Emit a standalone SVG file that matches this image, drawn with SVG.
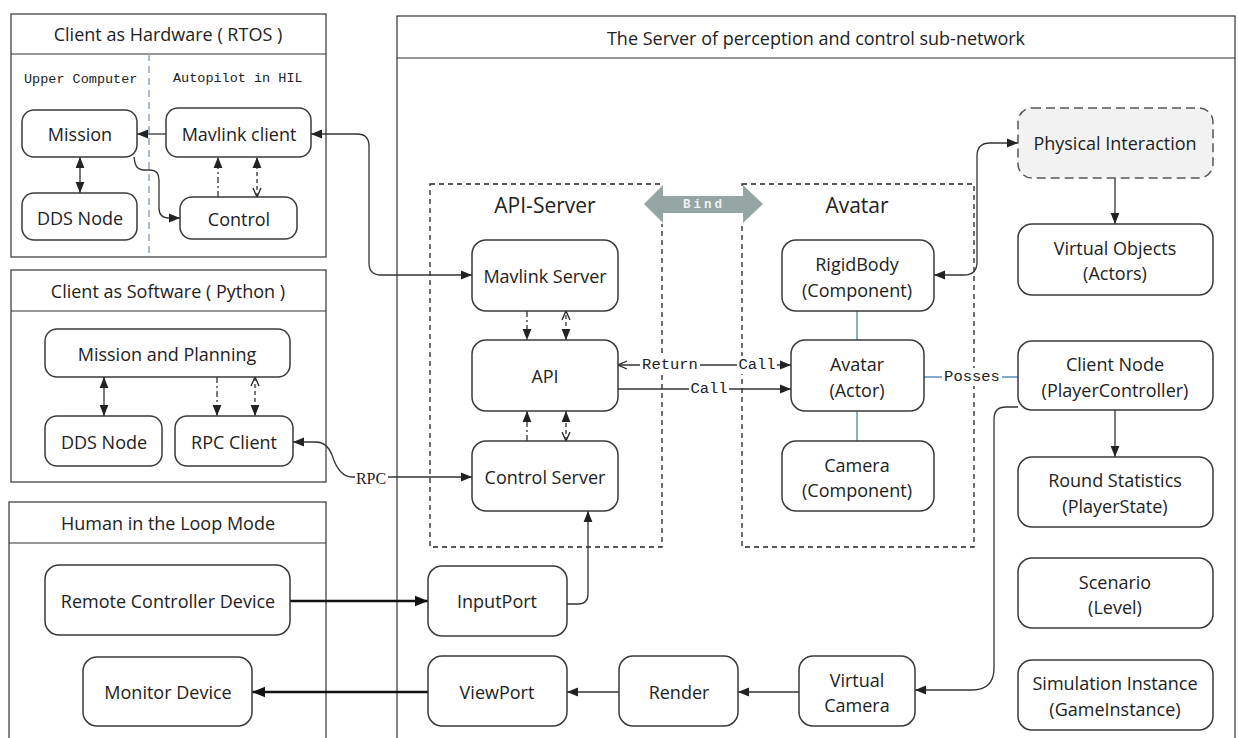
<svg xmlns="http://www.w3.org/2000/svg" width="1238" height="738" viewBox="0 0 1238 738">
  <style>
    .frame { fill: #ffffff; stroke: #333333; stroke-width: 1.2; }
    .node { fill: #ffffff; stroke: #3a3a3a; stroke-width: 1.5; }
    .ghost { fill: #f2f2f2; stroke: #555555; stroke-width: 1.5; stroke-dasharray: 9 5; }
    .zone { fill: none; stroke: #222222; stroke-width: 1.3; stroke-dasharray: 5 4; }
    .t { font-family: "Open Sans", "Noto Sans", "Liberation Sans", sans-serif; font-size: 18px; fill: #222222; text-anchor: middle; dominant-baseline: central; }
    .title { font-size: 18px; }
    .zt { font-size: 21px; }
    .mono { font-family: "Liberation Mono", "DejaVu Sans Mono", monospace; font-size: 13.5px; fill: #222222; dominant-baseline: central; }
    .lbl { font-family: "Liberation Mono", "DejaVu Sans Mono", monospace; font-size: 15.5px; fill: #222222; text-anchor: middle; dominant-baseline: central; }
    .lblbg { fill: #ffffff; }
    .ln { fill: none; stroke: #333333; stroke-width: 1.3; }
    .thick { fill: none; stroke: #111111; stroke-width: 2.6; }
    .dash { stroke-dasharray: 4 3; }
    .dashdot { stroke-dasharray: 6 3 2 3; }
    .blue { fill: none; stroke: #5b8db8; stroke-width: 1.4; }
  </style>
  <defs>
    <marker id="arr" viewBox="0 0 10 10" refX="10" refY="5" markerWidth="11" markerHeight="11" markerUnits="userSpaceOnUse" orient="auto-start-reverse">
      <path d="M0,1 L10,5 L0,9 z" fill="#222222"/>
    </marker>
    <marker id="arrBig" viewBox="0 0 10 10" refX="10" refY="5" markerWidth="13" markerHeight="13" markerUnits="userSpaceOnUse" orient="auto-start-reverse">
      <path d="M0,1 L10,5 L0,9 z" fill="#111111"/>
    </marker>
    <marker id="open" viewBox="0 0 10 10" refX="10" refY="5" markerWidth="10" markerHeight="10" markerUnits="userSpaceOnUse" orient="auto-start-reverse">
      <path d="M1,1 L10,5 L1,9" fill="none" stroke="#222222" stroke-width="1.3"/>
    </marker>
  </defs>

  <rect width="1238" height="738" fill="#ffffff"/>

  <!-- Containers -->
  <g id="server-frame">
    <rect class="frame" x="397" y="16" width="838" height="740"/>
    <line x1="397" y1="58" x2="1235" y2="58" stroke="#333333" stroke-width="1.2"/>
    <text class="t title" x="816" y="38">The Server of perception and control sub-network</text>
  </g>

  <g id="hardware-frame">
    <rect class="frame" x="11" y="14" width="315" height="243"/>
    <line x1="11" y1="54" x2="326" y2="54" stroke="#333333" stroke-width="1.2"/>
    <text class="t title" x="168" y="34">Client as Hardware ( RTOS )</text>
    <line x1="149" y1="54" x2="149" y2="257" stroke="#8ea7c2" stroke-width="1.5" stroke-dasharray="7 5"/>
    <text class="mono" x="24" y="79">Upper Computer</text>
    <text class="mono" x="173" y="78">Autopilot in HIL</text>
  </g>

  <g id="software-frame">
    <rect class="frame" x="11" y="270" width="315" height="212"/>
    <line x1="11" y1="311" x2="326" y2="311" stroke="#333333" stroke-width="1.2"/>
    <text class="t title" x="168" y="291">Client as Software ( Python )</text>
  </g>

  <g id="human-frame">
    <rect class="frame" x="9" y="502" width="317" height="250"/>
    <line x1="9" y1="543" x2="326" y2="543" stroke="#333333" stroke-width="1.2"/>
    <text class="t title" x="168" y="523">Human in the Loop Mode</text>
  </g>

  <g id="api-server-zone">
    <rect class="zone" x="430" y="184" width="232" height="363"/>
    <text class="t zt" x="545" y="205">API-Server</text>
  </g>

  <g id="avatar-zone">
    <rect class="zone" x="742" y="184" width="232" height="363"/>
    <text class="t zt" x="857" y="205">Avatar</text>
  </g>

  <g id="bind">
    <rect x="660" y="186" width="86" height="38" fill="#ffffff"/>
    <path d="M644,204 L663,185 L663,196 L743,196 L743,185 L763,204 L743,223 L743,213 L663,213 L663,223 z" fill="#95a5a3"/>
    <text x="704" y="205" font-family="Liberation Mono, DejaVu Sans Mono, monospace" font-size="12.5" font-weight="bold" letter-spacing="3" fill="#eef2f1" text-anchor="middle" dominant-baseline="central">Bind</text>
  </g>

  <!-- Connectors -->
  <g id="connectors">
    <!-- hardware client -->
    <path class="ln" d="M166,134 L137,134" marker-end="url(#arr)"/>
    <path class="ln" d="M80,157 L80,193" marker-start="url(#arr)" marker-end="url(#arr)"/>
    <path class="ln" d="M134,157 L135,163 Q137,170 144,170 L150,170 Q159,170 159,180 L159,208 Q159,218 169,218 L180,218" marker-end="url(#arr)"/>
    <path class="ln dashdot" d="M218,197 L218,157" marker-end="url(#arr)"/>
    <path class="ln dash" d="M257,197 L257,157" marker-start="url(#open)" marker-end="url(#arr)"/>
    <path class="ln" d="M311,134 L357,134 Q369,134 369,146 L369,263 Q369,275 381,275 L472,275" marker-start="url(#arr)" marker-end="url(#arr)"/>

    <!-- software client -->
    <path class="ln" d="M104,377 L104,416" marker-start="url(#arr)" marker-end="url(#arr)"/>
    <path class="ln dashdot" d="M217,377 L217,416" marker-end="url(#arr)"/>
    <path class="ln dash" d="M255,416 L255,377" marker-start="url(#arr)" marker-end="url(#open)"/>
    <path class="ln" d="M293,442 L316,442 Q327,442 332,455 Q339,477 352,477 L472,477" marker-start="url(#arr)" marker-end="url(#arr)"/>
    <rect class="lblbg" x="355" y="468" width="33" height="18"/>
    <text x="371" y="478" font-family="Liberation Serif, DejaVu Serif, serif" font-size="16" fill="#222222" text-anchor="middle" dominant-baseline="central">RPC</text>

    <!-- API server internals -->
    <path class="ln dashdot" d="M527,311 L527,340" marker-end="url(#arr)"/>
    <path class="ln dash" d="M566,340 L566,311" marker-start="url(#arr)" marker-end="url(#open)"/>
    <path class="ln dashdot" d="M527,441 L527,411" marker-end="url(#arr)"/>
    <path class="ln dash" d="M566,441 L566,411" marker-start="url(#open)" marker-end="url(#arr)"/>

    <!-- API <-> Avatar -->
    <path class="ln" d="M791,365 L618,365" marker-start="url(#arr)" marker-end="url(#open)"/>
    <rect class="lblbg" x="640" y="356" width="60" height="18"/>
    <text class="lbl" x="670" y="365">Return</text>
    <rect class="lblbg" x="737" y="356" width="40" height="18"/>
    <text class="lbl" x="757" y="365">Call</text>
    <path class="ln" d="M618,389 L791,389" marker-end="url(#arr)"/>
    <rect class="lblbg" x="689" y="380" width="40" height="18"/>
    <text class="lbl" x="709" y="389">Call</text>

    <!-- avatar parts -->
    <path class="blue" d="M857,311 L857,340"/>
    <path class="blue" d="M857,411 L857,441"/>
    <path class="blue" d="M924,377 L1018,377"/>
    <rect class="lblbg" x="942" y="368" width="60" height="18"/>
    <text class="lbl" x="972" y="377">Posses</text>

    <!-- physics -->
    <path class="ln" d="M934,275 L964,275 Q977,275 977,262 L977,156 Q977,143 990,143 L1018,143" marker-start="url(#arr)" marker-end="url(#arr)"/>
    <path class="ln" d="M1115,178 L1115,224" stroke-width="2" marker-end="url(#arr)"/>

    <!-- player controller -->
    <path class="ln" d="M1115,410 L1115,457" marker-end="url(#arr)"/>
    <path class="ln" d="M1018,407 L1006,407 Q994,407 994,419 L994,668 Q994,690 972,690 L915,690" marker-end="url(#arr)"/>

    <!-- render pipeline -->
    <path class="ln" d="M799,692 L738,692" marker-end="url(#arr)"/>
    <path class="ln" d="M619,692 L567,692" marker-end="url(#arr)"/>
    <path class="thick" d="M428,692 L252,692" marker-end="url(#arrBig)"/>
    <path class="thick" d="M290,601 L428,601" marker-end="url(#arrBig)"/>
    <path class="ln" d="M567,604 L578,604 Q588,604 588,594 L588,511" marker-end="url(#arr)"/>
  </g>

  <!-- Nodes -->
  <g id="mission">
    <rect class="node" x="22" y="110" width="115" height="47" rx="12"/>
    <text class="t" x="80" y="134">Mission</text>
  </g>
  <g id="mavlink-client">
    <rect class="node" x="166" y="108" width="145" height="49" rx="12"/>
    <text class="t" x="239" y="134">Mavlink client</text>
  </g>
  <g id="dds-node-hw">
    <rect class="node" x="22" y="193" width="115" height="47" rx="12"/>
    <text class="t" x="80" y="218">DDS Node</text>
  </g>
  <g id="control">
    <rect class="node" x="180" y="197" width="117" height="42" rx="12"/>
    <text class="t" x="239" y="219">Control</text>
  </g>

  <g id="mission-planning">
    <rect class="node" x="45" y="329" width="245" height="48" rx="12"/>
    <text class="t" x="167" y="354">Mission and Planning</text>
  </g>
  <g id="dds-node-sw">
    <rect class="node" x="45" y="416" width="117" height="50" rx="12"/>
    <text class="t" x="104" y="442">DDS Node</text>
  </g>
  <g id="rpc-client">
    <rect class="node" x="175" y="416" width="118" height="50" rx="12"/>
    <text class="t" x="234" y="442">RPC Client</text>
  </g>

  <g id="remote-controller">
    <rect class="node" x="45" y="565" width="245" height="70" rx="14"/>
    <text class="t" x="168" y="601">Remote Controller Device</text>
  </g>
  <g id="monitor">
    <rect class="node" x="83" y="657" width="169" height="69" rx="14"/>
    <text class="t" x="168" y="692">Monitor Device</text>
  </g>

  <g id="mavlink-server">
    <rect class="node" x="472" y="240" width="146" height="71" rx="14"/>
    <text class="t" x="545" y="276">Mavlink Server</text>
  </g>
  <g id="api">
    <rect class="node" x="472" y="340" width="146" height="71" rx="14"/>
    <text class="t" x="545" y="376">API</text>
  </g>
  <g id="control-server">
    <rect class="node" x="472" y="441" width="146" height="70" rx="14"/>
    <text class="t" x="545" y="477">Control Server</text>
  </g>

  <g id="rigidbody">
    <rect class="node" x="782" y="240" width="152" height="71" rx="14"/>
    <text class="t" x="857" y="264">RigidBody</text>
    <text class="t" x="857" y="290">(Component)</text>
  </g>
  <g id="avatar-actor">
    <rect class="node" x="791" y="340" width="133" height="71" rx="14"/>
    <text class="t" x="857" y="364">Avatar</text>
    <text class="t" x="857" y="390">(Actor)</text>
  </g>
  <g id="camera">
    <rect class="node" x="782" y="441" width="152" height="70" rx="14"/>
    <text class="t" x="857" y="465">Camera</text>
    <text class="t" x="857" y="490">(Component)</text>
  </g>

  <g id="physical-interaction">
    <rect class="ghost" x="1018" y="108" width="195" height="70" rx="14"/>
    <text class="t" x="1115" y="143">Physical Interaction</text>
  </g>
  <g id="virtual-objects">
    <rect class="node" x="1018" y="224" width="195" height="71" rx="14"/>
    <text class="t" x="1115" y="248">Virtual Objects</text>
    <text class="t" x="1115" y="273">(Actors)</text>
  </g>
  <g id="client-node">
    <rect class="node" x="1018" y="341" width="195" height="69" rx="14"/>
    <text class="t" x="1115" y="364">Client Node</text>
    <text class="t" x="1115" y="390">(PlayerController)</text>
  </g>
  <g id="round-statistics">
    <rect class="node" x="1018" y="457" width="195" height="70" rx="14"/>
    <text class="t" x="1115" y="480">Round Statistics</text>
    <text class="t" x="1115" y="506">(PlayerState)</text>
  </g>
  <g id="scenario">
    <rect class="node" x="1018" y="558" width="195" height="70" rx="14"/>
    <text class="t" x="1115" y="582">Scenario</text>
    <text class="t" x="1115" y="607">(Level)</text>
  </g>
  <g id="simulation-instance">
    <rect class="node" x="1018" y="660" width="195" height="70" rx="14"/>
    <text class="t" x="1115" y="683">Simulation Instance</text>
    <text class="t" x="1115" y="709">(GameInstance)</text>
  </g>

  <g id="input-port">
    <rect class="node" x="428" y="566" width="139" height="70" rx="14"/>
    <text class="t" x="497" y="601">InputPort</text>
  </g>
  <g id="view-port">
    <rect class="node" x="428" y="656" width="139" height="70" rx="14"/>
    <text class="t" x="497" y="692">ViewPort</text>
  </g>
  <g id="render">
    <rect class="node" x="619" y="656" width="119" height="70" rx="14"/>
    <text class="t" x="679" y="692">Render</text>
  </g>
  <g id="virtual-camera">
    <rect class="node" x="799" y="656" width="116" height="70" rx="14"/>
    <text class="t" x="857" y="680">Virtual</text>
    <text class="t" x="857" y="705">Camera</text>
  </g>
</svg>
